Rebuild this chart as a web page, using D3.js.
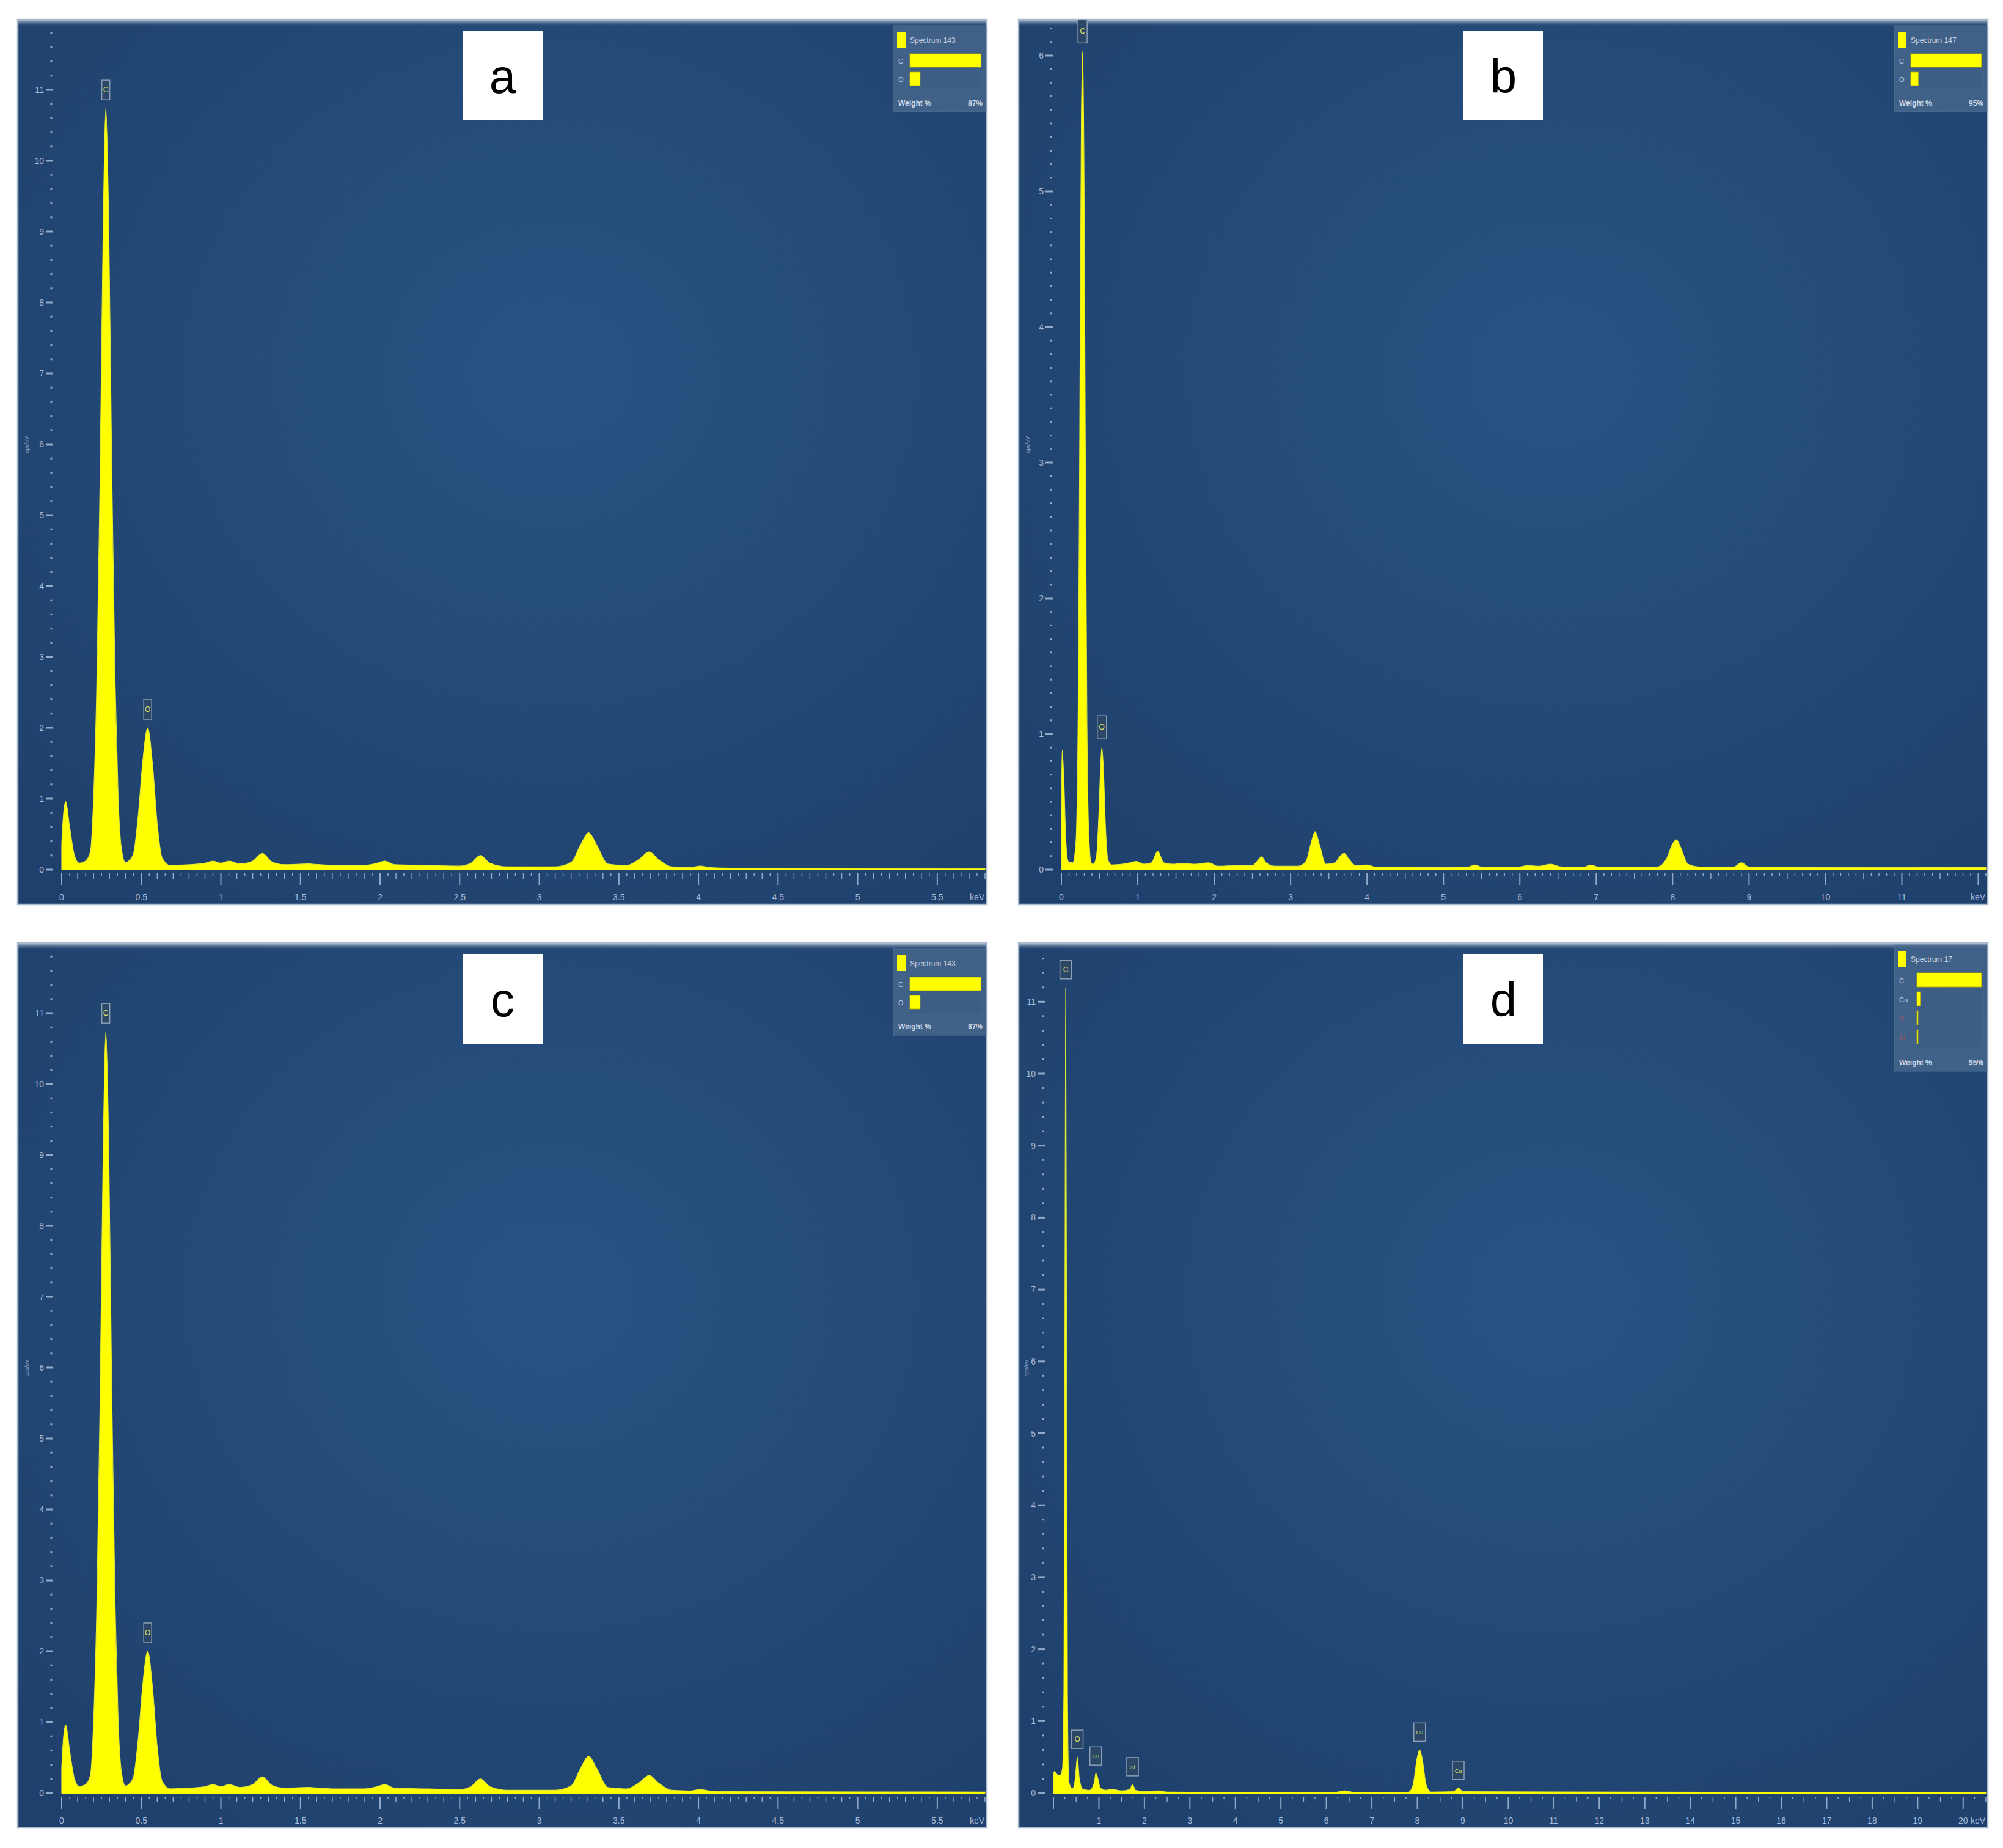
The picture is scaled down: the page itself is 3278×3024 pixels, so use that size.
<!DOCTYPE html>
<meta charset="utf-8">
<script src="https://d3js.org/d3.v7.min.js"></script>
<style>
  body { margin: 0; background: #fff; }
  text { font-family: "Liberation Sans", Arial, sans-serif; }
</style>
<div id="chart"></div>
<script>
// ---- spectrum a (same acquisition shown again in c) : keV / cps per eV
var energyA = [0.00, 0.01, 0.025, 0.05, 0.08, 0.11, 0.15, 0.18, 0.20, 0.22, 0.24, 0.26, 0.277, 0.295, 0.315, 0.335, 0.355, 0.375, 0.40, 0.42,
  0.45, 0.48, 0.51, 0.54, 0.57, 0.60, 0.63, 0.68, 0.80, 0.90, 0.95, 1.00, 1.05, 1.12, 1.20, 1.26, 1.32, 1.40, 1.55, 1.70, 1.90,
  1.98, 2.03, 2.09, 2.30, 2.50, 2.57, 2.63, 2.69, 2.80, 3.10, 3.20, 3.26, 3.31, 3.36, 3.43, 3.55, 3.63, 3.69, 3.75, 3.83, 3.95,
  4.01, 4.07, 4.20, 5.80];
var countsA = [0.35, 0.75, 0.96, 0.60, 0.20, 0.09, 0.12, 0.25, 1.00, 2.60, 5.40, 9.00, 10.74, 9.20, 5.60, 2.70, 1.00, 0.30, 0.10, 0.12,
  0.22, 0.75, 1.55, 2.00, 1.50, 0.65, 0.17, 0.06, 0.07, 0.09, 0.12, 0.09, 0.12, 0.08, 0.12, 0.23, 0.11, 0.07, 0.08, 0.06, 0.06,
  0.09, 0.12, 0.07, 0.06, 0.05, 0.09, 0.20, 0.09, 0.04, 0.04, 0.10, 0.35, 0.52, 0.35, 0.08, 0.06, 0.15, 0.25, 0.14, 0.04, 0.03,
  0.05, 0.03, 0.02, 0.015];

// ---- spectrum b
var energyB = [0.00, 0.01, 0.03, 0.06, 0.09, 0.15, 0.19, 0.22, 0.24, 0.26, 0.277, 0.295, 0.315, 0.335, 0.36, 0.39, 0.42,
  0.46, 0.49, 0.515, 0.53, 0.55, 0.575, 0.61, 0.66, 0.80, 0.90, 0.98, 1.08, 1.18, 1.26, 1.34, 1.45, 1.60, 1.75, 1.93, 2.05,
  2.30, 2.50, 2.56, 2.62, 2.68, 2.80, 3.10, 3.20, 3.27, 3.32, 3.38, 3.46, 3.58, 3.65, 3.70, 3.76, 3.85, 4.00, 4.10, 5.00,
  5.33, 5.41, 5.50, 6.00, 6.10, 6.25, 6.40, 6.55, 6.85, 6.93, 7.02, 7.80, 7.92, 8.00, 8.05, 8.10, 8.20, 8.35, 8.80, 8.90, 9.00, 12.10];
var countsB = [0.40, 0.88, 0.70, 0.20, 0.06, 0.05, 0.20, 1.20, 3.20, 5.40, 6.03, 5.30, 3.00, 1.10, 0.25, 0.05, 0.04,
  0.10, 0.40, 0.78, 0.90, 0.75, 0.35, 0.07, 0.035, 0.04, 0.05, 0.06, 0.04, 0.05, 0.135, 0.05, 0.04, 0.045, 0.04, 0.05, 0.025,
  0.03, 0.03, 0.06, 0.095, 0.05, 0.025, 0.025, 0.06, 0.20, 0.28, 0.18, 0.04, 0.05, 0.10, 0.12, 0.08, 0.03, 0.035, 0.02, 0.018,
  0.02, 0.035, 0.018, 0.02, 0.03, 0.025, 0.04, 0.02, 0.02, 0.035, 0.02, 0.02, 0.08, 0.19, 0.22, 0.17, 0.04, 0.02, 0.02, 0.05, 0.02, 0.015];

// ---- spectrum d
var energyD = [0.00, 0.02, 0.05, 0.10, 0.15, 0.20, 0.23, 0.25, 0.27, 0.29, 0.31, 0.34, 0.42, 0.48, 0.525, 0.57, 0.65, 0.80,
  0.90, 0.93, 0.97, 1.03, 1.15, 1.30, 1.50, 1.68, 1.74, 1.80, 2.00, 2.30, 2.50, 3.50, 6.20, 6.40, 6.60, 7.80, 7.90, 8.00,
  8.05, 8.10, 8.20, 8.30, 8.80, 8.90, 9.00, 20.50];
var countsD = [0.25, 0.30, 0.28, 0.25, 0.25, 0.35, 1.50, 6.00, 11.20, 6.00, 1.30, 0.15, 0.06, 0.20, 0.50, 0.20, 0.05, 0.04,
  0.15, 0.27, 0.22, 0.07, 0.04, 0.05, 0.03, 0.05, 0.12, 0.04, 0.02, 0.03, 0.015, 0.01, 0.01, 0.03, 0.01, 0.01, 0.10, 0.50,
  0.60, 0.50, 0.10, 0.015, 0.02, 0.07, 0.02, 0.005];

// peak markers: element, line energy (keV)
var peaksA = [["C", 0.277], ["O", 0.54]];
var peaksB = [["C", 0.277], ["O", 0.53]];
var peaksD = [["C", 0.27], ["O", 0.525], ["Cu", 0.93], ["Si", 1.74], ["Cu", 8.05], ["Cu", 8.9]];

// axis labels
var xLabelsA = ["0", "0.5", "1", "1.5", "2", "2.5", "3", "3.5", "4", "4.5", "5", "5.5"];
var xLabelsB = ["0", "1", "2", "3", "4", "5", "6", "7", "8", "9", "10", "11"];
var xLabelsD = ["1", "2", "3", "4", "5", "6", "7", "8", "9", "10", "11", "12", "13", "14", "15", "16", "17", "18", "19", "20"];
var yLabelsA = [0, 1, 2, 3, 4, 5, 6, 7, 8, 9, 10, 11];
var yLabelsB = [0, 1, 2, 3, 4, 5, 6];
var yLabelsD = [0, 1, 2, 3, 4, 5, 6, 7, 8, 9, 10, 11];

// legend (weight %)
var legendNamesA = ["C", "O"], legendWtA = [86.5, 12.5];
var legendNamesB = ["C", "O"], legendWtB = [94, 10];
var legendNamesD = ["C", "Cu", "O", "Si"], legendWtD = [94, 5, 1, 0.3];
var spectrumNames = {a: "Spectrum 143", b: "Spectrum 147", c: "Spectrum 143", d: "Spectrum 17"};
var legendMax = {a: 87, b: 95, c: 87, d: 95};

// ---- layout
var W = 3278, H = 3024, PW = 1586, PH = 1448;
var panels = [
  {id: "a", x: 29, y: 32, e: energyA, c: countsA, x0: 72, xMax: 5.8, unit: 116, xMinor: 0.05, xMid: 0.1, xMajor: 0.5, yMinor: 0.2,
   xl: xLabelsA, yl: yLabelsA, peaks: peaksA, names: legendNamesA, wt: legendWtA, legH: 141, boxW: 13, boxH: 32},
  {id: "b", x: 1667, y: 32, e: energyB, c: countsB, x0: 70, xMax: 12.1, unit: 222, xMinor: 0.1, xMid: 0.5, xMajor: 1, yMinor: 0.1,
   xl: xLabelsB, yl: yLabelsB, peaks: peaksB, names: legendNamesB, wt: legendWtB, legH: 141, boxW: 15, boxH: 38},
  {id: "c", x: 29, y: 1543, e: energyA, c: countsA, x0: 72, xMax: 5.8, unit: 116, xMinor: 0.05, xMid: 0.1, xMajor: 0.5, yMinor: 0.2,
   xl: xLabelsA, yl: yLabelsA, peaks: peaksA, names: legendNamesA, wt: legendWtA, legH: 141, boxW: 13, boxH: 32},
  {id: "d", x: 1667, y: 1543, e: energyD, c: countsD, x0: 57, xMax: 20.5, unit: 117.7, xMinor: 0.25, xMid: 0.5, xMajor: 1, yMinor: 0.2,
   xl: xLabelsD, yl: yLabelsD, peaks: peaksD, names: legendNamesD, wt: legendWtD, legH: 207, boxW: 19, boxH: 30}
];
var baseY = 1391;
var yellow = "#ffff00", tickCol = "#a7bddb";

var svg = d3.select("#chart").append("svg")
  .attr("width", W).attr("height", H);

var defs = svg.append("defs");
var grad = defs.append("radialGradient").attr("id", "bg")
  .attr("cx", "55%").attr("cy", "40%").attr("r", "75%");
grad.append("stop").attr("offset", "0%").attr("stop-color", "#285383");
grad.append("stop").attr("offset", "100%").attr("stop-color", "#1f406c");
var topGrad = defs.append("linearGradient").attr("id", "topline")
  .attr("x1", 0).attr("y1", 0).attr("x2", 0).attr("y2", 1);
topGrad.append("stop").attr("offset", "0%").attr("stop-color", "#c4d0de");
topGrad.append("stop").attr("offset", "100%").attr("stop-color", "#1f416e").attr("stop-opacity", 0);

function steps(max, step) {
  return d3.range(0, Math.floor(max / step + 1e-6) + 1).map(function(i) { return i * step; });
}
function isMult(v, s) { return Math.abs(v / s - Math.round(v / s)) < 1e-6; }

panels.forEach(function(p) {
  var g = svg.append("g").attr("transform", "translate(" + p.x + "," + p.y + ")");

  g.append("rect").attr("width", PW).attr("height", PH).attr("fill", "url(#bg)");
  g.append("rect").attr("width", PW).attr("height", 12).attr("fill", "url(#topline)");
  g.append("rect").attr("width", PW).attr("height", PH).attr("fill", "none")
    .attr("stroke", "#a9bacd").attr("stroke-width", 2.5);

  var x = d3.scaleLinear().domain([0, p.xMax]).range([p.x0, PW - 3]);
  var yTop = baseY / p.unit;
  var y = d3.scaleLinear().domain([0, yTop]).range([baseY, 0]);

  // y axis: dotted minor ticks, dashes + numbers at majors
  var dotX = p.x0 - 17;
  var yt = steps(yTop - 0.05, p.yMinor);
  g.selectAll(".ydot").data(yt).enter().append("rect")
    .attr("x", function(d) { return isMult(d, 1) ? dotX - 9 : dotX - 1.5; })
    .attr("y", function(d) { return y(d) - 1.5; })
    .attr("width", function(d) { return isMult(d, 1) ? 12 : 3; })
    .attr("height", 3)
    .attr("fill", tickCol).attr("opacity", 0.85);
  g.selectAll(".ylab").data(p.yl).enter().append("text")
    .attr("x", dotX - 12).attr("y", function(d) { return y(d) + 5; })
    .attr("text-anchor", "end").attr("font-size", 14).attr("fill", tickCol)
    .text(function(d) { return d; });
  g.append("text")
    .attr("transform", "translate(" + (p.id === "d" ? 16 : 18) + "," + (baseY / 2) + ") rotate(-90)")
    .attr("text-anchor", "middle").attr("font-size", 9).attr("fill", "#8ea6c6")
    .text("cps/eV");

  // x axis ticks
  var xt = steps(p.xMax, p.xMinor);
  g.selectAll(".xt").data(xt).enter().append("line")
    .attr("x1", function(d) { return x(d); }).attr("x2", function(d) { return x(d); })
    .attr("y1", baseY + 6)
    .attr("y2", function(d) { return baseY + (isMult(d, p.xMajor) ? 26 : isMult(d, p.xMid) ? 15 : 10); })
    .attr("stroke", tickCol).attr("stroke-width", function(d) { return isMult(d, p.xMajor) ? 2 : 1.5; })
    .attr("opacity", 0.85);
  g.selectAll(".xlab").data(p.xl).enter().append("text")
    .attr("x", function(d) { return x(+d); }).attr("y", baseY + 50)
    .attr("text-anchor", "middle").attr("font-size", 14).attr("fill", tickCol)
    .text(function(d) { return d; });
  g.append("text").attr("x", PW - 16).attr("y", baseY + 50)
    .attr("text-anchor", "middle").attr("font-size", 14).attr("fill", tickCol).text("keV");

  // spectrum
  var pts = p.e.map(function(e, i) { return [e, p.c[i]]; });
  var area = d3.area().curve(d3.curveMonotoneX)
    .x(function(d) { return x(d[0]); })
    .y0(baseY).y1(function(d) { return y(d[1]); });
  g.append("path").datum(pts).attr("d", area)
    .attr("fill", yellow).attr("stroke", "#e4ea30").attr("stroke-width", 1.2);
  g.append("line").attr("x1", x(0)).attr("x2", x(p.xMax)).attr("y1", baseY).attr("y2", baseY)
    .attr("stroke", yellow).attr("stroke-width", 2);

  // peak labels
  p.peaks.forEach(function(pk) {
    var i = d3.leastIndex(p.e, function(e) { return Math.abs(e - pk[1]); });
    var top = y(p.c[i]) - 14;
    var bx = x(pk[1]);
    g.append("rect").attr("x", bx - p.boxW / 2).attr("y", top - p.boxH)
      .attr("width", p.boxW).attr("height", p.boxH)
      .attr("fill", "#2b4666").attr("stroke", "#8d9fb6").attr("stroke-width", 1.5);
    g.append("text").attr("x", bx).attr("y", top - p.boxH / 2 + 4)
      .attr("text-anchor", "middle").attr("font-size", pk[0].length > 1 ? 9 : 12)
      .attr("fill", "#dfe36a").text(pk[0]);
  });

  // legend
  var lx = 1433, ly = p.id === "d" ? 3 : 10, lw = 152;
  var lg = g.append("g").attr("transform", "translate(" + lx + "," + ly + ")");
  lg.append("rect").attr("width", lw).attr("height", p.legH)
    .attr("fill", "#4a6a8f").attr("opacity", 0.75).attr("stroke", "#5d7ca0");
  lg.append("rect").attr("x", 6).attr("y", 10).attr("width", 14).attr("height", 26).attr("fill", yellow);
  lg.append("text").attr("x", 27).attr("y", 28).attr("font-size", 12).attr("fill", "#c5d3e4")
    .text(spectrumNames[p.id]);
  var bx0 = p.id === "d" ? 37 : 27, bw = lw - bx0 - 8;
  var wx = d3.scaleLinear().domain([0, legendMax[p.id]]).range([0, bw]);
  var rowH = p.id === "d" ? 31 : 30;
  lg.append("rect").attr("x", bx0).attr("y", 44).attr("width", bw).attr("height", rowH * p.names.length)
    .attr("fill", "#3b5c82").attr("opacity", 0.6);
  p.names.forEach(function(n, i) {
    var ry = 46 + i * rowH;
    lg.append("rect").attr("x", bx0).attr("y", ry).attr("width", Math.max(2, wx(p.wt[i])))
      .attr("height", rowH - 8).attr("fill", yellow).attr("stroke", "#b8b000").attr("stroke-width", 0.8);
    lg.append("text").attr("x", 8).attr("y", ry + rowH / 2 + 1).attr("font-size", 11)
      .attr("fill", i > 1 ? "#a05060" : "#c5d3e4").text(n);
  });
  lg.append("text").attr("x", 8).attr("y", p.legH - 10).attr("font-size", 12).attr("font-weight", "bold")
    .attr("fill", "#d0dbe8").text("Weight %");
  lg.append("text").attr("x", lw - 6).attr("y", p.legH - 10).attr("font-size", 12).attr("font-weight", "bold")
    .attr("text-anchor", "end").attr("fill", "#d0dbe8").text(legendMax[p.id] + "%");

  // panel letter
  g.append("rect").attr("x", 728).attr("y", 18).attr("width", 131).attr("height", 147).attr("fill", "#fff");
  g.append("text").attr("x", 728 + 65.5).attr("y", 120).attr("text-anchor", "middle")
    .attr("font-size", 78).attr("fill", "#000").text(p.id);
});
</script>
